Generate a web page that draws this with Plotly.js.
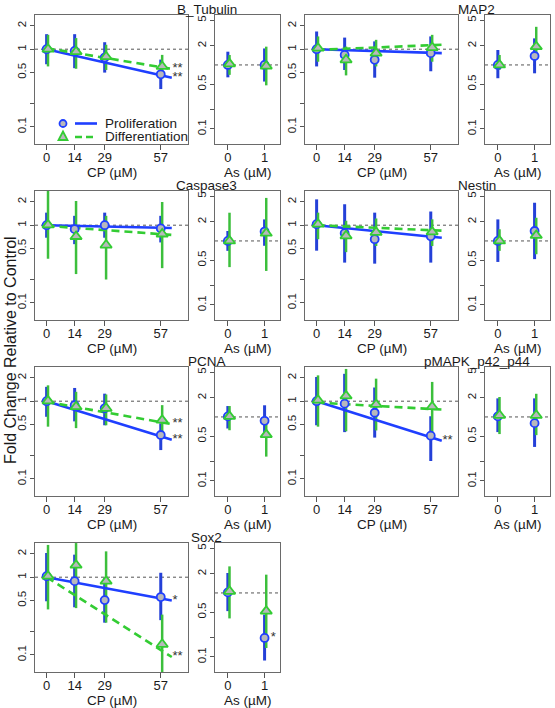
<!DOCTYPE html>
<html><head><meta charset="utf-8">
<script src="https://cdn.plot.ly/plotly-3.0.1.min.js"></script>
<style>html,body{margin:0;padding:0;background:#fff}#chart{width:555px;height:708px}</style>
</head><body><div id="chart"></div>
<script>
// ---------------- DATA ----------------
const genes = ['B_Tubulin','MAP2','Caspase3','Nestin','PCNA','pMAPK_p42_p44','Sox2'];
const cpDoses = [0,14,29,57];
const asDoses = [0,1];
const cpTickLabels = ['0','14','29','57'];
const asTickLabels = ['0','1'];
const cpYTicks = [0.1,0.2,0.5,1,2];
const cpYTickLabels = ['0.1','','0.5','1','2'];
const asYTicks = [0.1,0.2,0.5,2,5];
const asYTickLabels = ['0.1','','0.5','2','5'];

// CP exposure, Proliferation (blue)
const cpProlMean = [[1.0,0.95,0.78,0.475],[1.0,0.845,0.73,0.89],[1.0,0.89,1.0,0.91],[1.03,0.79,0.66,0.72],[1.0,0.89,0.81,0.367],[1.0,0.93,0.71,0.36],[1.03,0.89,0.507,0.555]];
const cpProlLow  = [[0.64,0.57,0.50,0.307],[0.60,0.54,0.43,0.52],[0.69,0.57,0.69,0.60],[0.47,0.33,0.32,0.33],[0.63,0.55,0.49,0.235],[0.49,0.40,0.34,0.17],[0.49,0.41,0.26,0.28]];
const cpProlHigh = [[1.56,1.56,1.23,0.735],[1.69,1.41,1.26,1.46],[1.45,1.32,1.45,1.32],[2.15,1.86,1.45,1.50],[1.53,1.48,1.25,0.52],[2.05,2.25,1.50,0.64],[2.05,1.95,0.98,1.14]];
// CP exposure, Differentiation (green)
const cpDiffMean = [[1.0,0.93,0.80,0.60],[1.03,0.73,0.89,1.05],[1.01,0.715,0.555,0.77],[1.03,0.73,0.81,0.82],[1.01,0.85,0.81,0.57],[1.03,1.17,0.91,0.85],[1.03,1.43,0.89,0.137]];
const cpDiffLow  = [[0.60,0.56,0.54,0.42],[0.69,0.46,0.60,0.69],[0.37,0.235,0.20,0.28],[0.66,0.45,0.54,0.54],[0.47,0.45,0.49,0.385],[0.47,0.41,0.42,0.385],[0.385,0.40,0.26,0.05]];
const cpDiffHigh = [[1.53,1.39,1.14,0.845],[1.46,1.08,1.32,1.53],[2.76,2.05,1.32,1.99],[1.45,1.14,1.22,1.19],[1.60,1.32,1.22,0.89],[2.15,2.60,1.95,1.77],[2.60,2.75,2.15,0.33]];
// fitted trend (value at dose 0 and at end of line, dose 62.5)
const fitDoses = [0,62.5];
const cpProlFit = [[1.0,0.43],[1.0,0.89],[1.0,0.92],[1.0,0.69],[1.0,0.32],[1.0,0.31],[1.0,0.50]];
const cpDiffFit = [[1.03,0.557],[0.98,1.14],[0.98,0.75],[1.0,0.85],[0.98,0.507],[0.96,0.78],[1.0,0.094]];
const cpProlStars = ['**','','','','**','**','*'];
const cpDiffStars = ['**','','','','**','','**'];

// As exposure
const asProlMean = [[1.0,1.0],[1.0,1.38],[1.0,1.40],[1.0,1.43],[1.02,0.87],[1.02,0.80],[1.02,0.198]];
const asProlLow  = [[0.64,0.55],[0.62,0.74],[0.70,0.84],[0.47,0.52],[0.66,0.49],[0.58,0.34],[0.52,0.088]];
const asProlHigh = [[1.61,1.81],[1.71,2.60],[1.43,2.17],[2.17,3.95],[1.48,1.52],[1.95,1.95],[2.05,0.46]];
const asDiffMean = [[1.04,0.96],[1.0,1.93],[1.0,1.32],[1.0,1.22],[1.02,0.53],[1.06,1.06],[1.06,0.52]];
const asDiffLow  = [[0.70,0.48],[0.84,1.30],[0.39,0.34],[0.70,0.62],[0.62,0.24],[0.54,0.52],[0.40,0.138]];
const asDiffHigh = [[1.43,1.93],[1.43,3.94],[2.76,4.70],[1.52,2.30],[1.48,0.94],[2.05,2.30],[2.60,1.93]];
const asProlStars = [['',''],['',''],['',''],['',''],['',''],['',''],['','*']];

// ---------------- STYLE ----------------
const FONT = 'Liberation Sans, Arial, sans-serif';
const W = 555, H = 708;
const BLUE = '#1f3fff', BLUE_BAR = '#2440d8', GREEN = '#33cc33', GREEN_BAR = '#3cbf3c', FILL = '#b8b8bc';
const cpXRange = [-5.8, 70.6], asXRange = [-0.35, 1.42];
const cpYRange = [-1.22, 0.44], asYRange = [-1.235, 0.78];
const cpOff = 0.7, asOff = 0.045;
const cpStarX = 62.8, asStarShift = 0.17;

const px = v => v / W, py = v => 1 - v / H;

function barXY(xs, lo, hi, off) {
  const X = [], Y = [];
  xs.forEach((x, i) => { X.push(x + off, x + off, null); Y.push(lo[i], hi[i], null); });
  return {X, Y};
}

const traces = [];
const layout = {
  width: W, height: H, margin: {l:0, r:0, t:0, b:0},
  paper_bgcolor: '#fff', plot_bgcolor: '#fff', showlegend: false,
  font: {family: FONT, color: '#1a1a1a'},
  annotations: [], shapes: []
};

function axisBase() {
  return {showline: true, linecolor: '#6a6a6a', linewidth: 1.3, mirror: true,
    showgrid: false, zeroline: false, ticks: 'outside', tickcolor: '#555', tickwidth: 1,
    fixedrange: true};
}

genes.forEach((g, p) => {
  const r = Math.floor(p / 2), c = p % 2;
  const top = 15 + 176 * r, bot = top + 129;
  const yDom = [py(bot), py(top)];
  const panels = [
    {n: 2*p+1, xDom: [px(35+270*c), px(188+270*c)], xr: cpXRange, yr: cpYRange,
     xt: cpDoses, xtl: cpTickLabels, yt: cpYTicks, ytl: cpYTickLabels},
    {n: 2*p+2, xDom: [px(215+270*c), px(280+270*c)], xr: asXRange, yr: asYRange,
     xt: asDoses, xtl: asTickLabels, yt: asYTicks, ytl: asYTickLabels}
  ];
  panels.forEach(pn => {
    const xs = pn.n === 1 ? 'xaxis' : 'xaxis' + pn.n;
    const ys = pn.n === 1 ? 'yaxis' : 'yaxis' + pn.n;
    layout[xs] = Object.assign(axisBase(), {domain: pn.xDom, anchor: 'y' + (pn.n===1?'':pn.n),
      range: pn.xr, tickmode: 'array', tickvals: pn.xt, ticktext: pn.xtl, ticklen: 5,
      ticklabelstandoff: -4,
      tickfont: {size: 13, family: FONT, color: '#1a1a1a'}});
    layout[ys] = Object.assign(axisBase(), {domain: yDom, anchor: 'x' + (pn.n===1?'':pn.n),
      type: 'log', range: pn.yr, tickmode: 'array', tickvals: pn.yt, ticktext: pn.ytl,
      tickangle: -90, ticklen: 4, ticklabelstandoff: -1,
      tickfont: {size: 11.5, family: FONT, color: '#1a1a1a'}});
  });
  const xa = (n) => 'x' + (n===1?'':n), ya = (n) => 'y' + (n===1?'':n);
  const nC = 2*p+1, nA = 2*p+2;

  // reference line at 1
  [[nC, cpXRange],[nA, asXRange]].forEach(([n, rg]) => {
    traces.push({type:'scatter', mode:'lines', x: rg, y: [1,1], xaxis: xa(n), yaxis: ya(n),
      line: {color:'#555', width: 1, dash: 'dot'}, hoverinfo:'skip'});
  });

  // ---- CP panel ----
  let b = barXY(cpDoses, cpProlLow[p], cpProlHigh[p], 0);
  traces.push({type:'scatter', mode:'lines', x:b.X, y:b.Y, xaxis:xa(nC), yaxis:ya(nC),
    line:{color:BLUE_BAR, width:3}, connectgaps:false, hoverinfo:'skip'});
  b = barXY(cpDoses, cpDiffLow[p], cpDiffHigh[p], cpOff);
  traces.push({type:'scatter', mode:'lines', x:b.X, y:b.Y, xaxis:xa(nC), yaxis:ya(nC),
    line:{color:GREEN_BAR, width:2.5}, connectgaps:false, hoverinfo:'skip'});
  traces.push({type:'scatter', mode:'lines', x:fitDoses, y:cpProlFit[p], xaxis:xa(nC), yaxis:ya(nC),
    line:{color:BLUE, width:2.6}, hoverinfo:'skip'});
  traces.push({type:'scatter', mode:'lines', x:fitDoses, y:cpDiffFit[p], xaxis:xa(nC), yaxis:ya(nC),
    line:{color:GREEN, width:2.6, dash:'8px,5px'}, hoverinfo:'skip'});
  traces.push({type:'scatter', mode:'markers', x:cpDoses, y:cpProlMean[p], xaxis:xa(nC), yaxis:ya(nC),
    marker:{symbol:'circle', size:8, color:FILL, line:{color:BLUE, width:1.8}}});
  traces.push({type:'scatter', mode:'markers', x:cpDoses.map(d=>d+cpOff), y:cpDiffMean[p], xaxis:xa(nC), yaxis:ya(nC),
    marker:{symbol:'triangle-up', size:10, color:FILL, line:{color:GREEN, width:1.8}}});
  traces.push({type:'scatter', mode:'text', x:[cpStarX, cpStarX], y:[cpProlFit[p][1], cpDiffFit[p][1]],
    text:[cpProlStars[p], cpDiffStars[p]], textposition:'middle right', cliponaxis:false,
    textfont:{size:13, family:FONT, color:'#333'}, xaxis:xa(nC), yaxis:ya(nC), hoverinfo:'skip'});

  // ---- As panel ----
  b = barXY(asDoses, asProlLow[p], asProlHigh[p], 0);
  traces.push({type:'scatter', mode:'lines', x:b.X, y:b.Y, xaxis:xa(nA), yaxis:ya(nA),
    line:{color:BLUE_BAR, width:3}, connectgaps:false, hoverinfo:'skip'});
  b = barXY(asDoses, asDiffLow[p], asDiffHigh[p], asOff);
  traces.push({type:'scatter', mode:'lines', x:b.X, y:b.Y, xaxis:xa(nA), yaxis:ya(nA),
    line:{color:GREEN_BAR, width:2.5}, connectgaps:false, hoverinfo:'skip'});
  traces.push({type:'scatter', mode:'markers', x:asDoses, y:asProlMean[p], xaxis:xa(nA), yaxis:ya(nA),
    marker:{symbol:'circle', size:8, color:FILL, line:{color:BLUE, width:1.8}}});
  traces.push({type:'scatter', mode:'markers', x:asDoses.map(d=>d+asOff), y:asDiffMean[p], xaxis:xa(nA), yaxis:ya(nA),
    marker:{symbol:'triangle-up', size:10, color:FILL, line:{color:GREEN, width:1.8}}});
  traces.push({type:'scatter', mode:'text', x:asDoses.map(d=>d+asStarShift), y:asProlMean[p],
    text:asProlStars[p], textposition:'middle right', cliponaxis:false,
    textfont:{size:13, family:FONT, color:'#333'}, xaxis:xa(nA), yaxis:ya(nA), hoverinfo:'skip'});

  // titles and axis labels
  layout.annotations.push({text: g, xref:'paper', yref:'paper', x: px(206.5+270*c), y: py(top-5.5),
    showarrow:false, xanchor:'center', yanchor:'middle', font:{size:13.5, family:FONT, color:'#1a1a1a'}});
  layout.annotations.push({text: 'CP (µM)', xref:'paper', yref:'paper', x: px(111.5+270*c), y: py(bot+28),
    showarrow:false, xanchor:'center', yanchor:'middle', font:{size:13.5, family:FONT, color:'#1a1a1a'}});
  layout.annotations.push({text: 'As (µM)', xref:'paper', yref:'paper', x: px(247.5+270*c), y: py(bot+28),
    showarrow:false, xanchor:'center', yanchor:'middle', font:{size:13.5, family:FONT, color:'#1a1a1a'}});
});

// y label
layout.annotations.push({text:'Fold Change Relative to Control', xref:'paper', yref:'paper',
  x: px(11), y: py(350), textangle: -90, showarrow:false, xanchor:'center', yanchor:'middle',
  font:{size:16, family:FONT, color:'#1a1a1a'}});

// legend (panel 1)
layout.shapes.push({type:'circle', xref:'paper', yref:'paper', x0:px(59.5), x1:px(66.5), y0:py(127), y1:py(120),
  fillcolor:FILL, line:{color:BLUE, width:1.8}});
layout.shapes.push({type:'line', xref:'paper', yref:'paper', x0:px(75), x1:px(97), y0:py(123.5), y1:py(123.5),
  line:{color:BLUE, width:2.6}});
layout.shapes.push({type:'path', xref:'paper', yref:'paper',
  path:`M ${px(63)},${py(131.5)} L ${px(58.5)},${py(140)} L ${px(67.5)},${py(140)} Z`,
  fillcolor:FILL, line:{color:GREEN, width:1.8}});
layout.shapes.push({type:'line', xref:'paper', yref:'paper', x0:px(75), x1:px(97), y0:py(137), y1:py(137),
  line:{color:GREEN, width:2.6, dash:'7px,4px'}});
layout.annotations.push({text:'Proliferation', xref:'paper', yref:'paper', x:px(103), y:py(123.5),
  showarrow:false, xanchor:'left', yanchor:'middle', font:{size:13.5, family:FONT, color:'#1a1a1a'}});
layout.annotations.push({text:'Differentiation', xref:'paper', yref:'paper', x:px(103), y:py(137),
  showarrow:false, xanchor:'left', yanchor:'middle', font:{size:13.5, family:FONT, color:'#1a1a1a'}});

Plotly.newPlot('chart', traces, layout, {staticPlot:true, displayModeBar:false});
</script></body></html>
